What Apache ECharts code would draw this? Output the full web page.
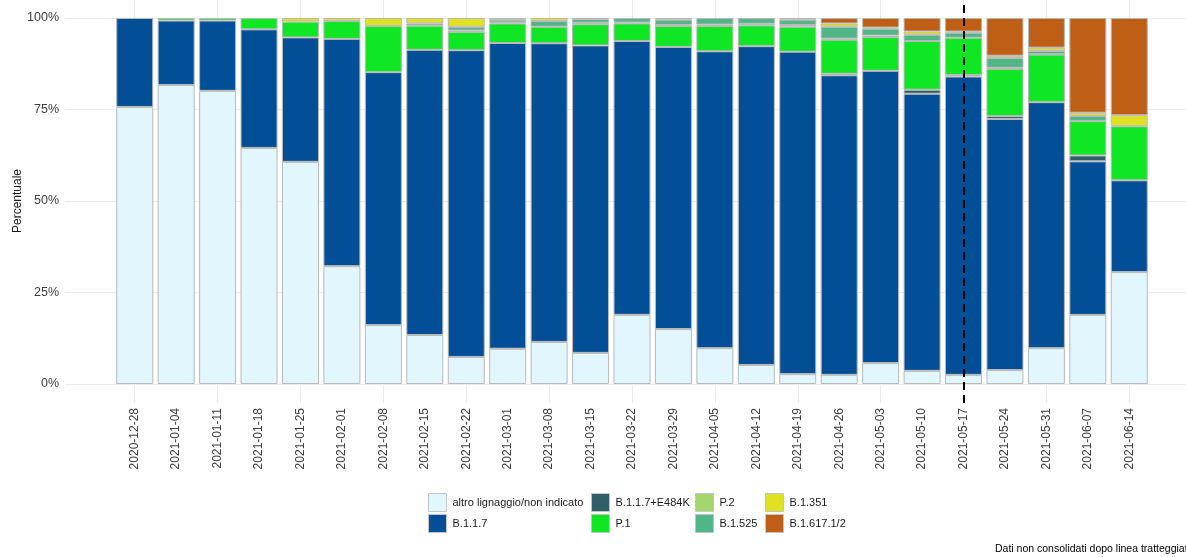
<!DOCTYPE html>
<html>
<head>
<meta charset="utf-8">
<script src="https://cdn.jsdelivr.net/npm/echarts@6/dist/echarts.min.js"></script>
<style>
  html, body { margin: 0; padding: 0; background: #fff; }
  #chart { width: 1186px; height: 557px; }
</style>
</head>
<body>
<div id="chart"></div>
<script>
// settimane
var weeks = ['2020-12-28','2021-01-04','2021-01-11','2021-01-18','2021-01-25','2021-02-01','2021-02-08',
  '2021-02-15','2021-02-22','2021-03-01','2021-03-08','2021-03-15','2021-03-22','2021-03-29','2021-04-05',
  '2021-04-12','2021-04-19','2021-04-26','2021-05-03','2021-05-10','2021-05-17','2021-05-24','2021-05-31',
  '2021-06-07','2021-06-14'];

// quote per lignaggio (%)
var altro  = [75.7, 81.7, 80.1, 64.5, 60.7, 32.2, 16.1, 13.4, 7.4, 9.6, 11.5, 8.5, 18.9, 15.0, 9.8, 5.2, 2.7, 2.5, 5.7, 3.6, 2.5, 3.8, 9.8, 18.9, 30.6];
var b117   = [24.3, 17.6, 19.2, 32.4, 34.0, 62.1, 69.1, 77.9, 83.9, 83.2, 81.6, 84.0, 74.8, 77.1, 81.1, 87.1, 88.1, 81.6, 79.7, 75.7, 81.5, 68.6, 67.2, 42.0, 25.1];
var e484k  = [0, 0, 0, 0, 0, 0, 0, 0, 0, 0, 0, 0, 0, 0, 0, 0, 0, 0.4, 0, 1.1, 0.4, 0.8, 0, 1.6, 0];
var p1     = [0, 0.7, 0.7, 3.1, 4.3, 4.9, 12.6, 6.6, 5.0, 5.3, 4.5, 5.8, 4.8, 5.7, 6.9, 5.7, 6.8, 9.3, 9.2, 13.3, 10.2, 12.9, 13.0, 9.4, 14.8];
var p2     = [0, 0, 0, 0, 0, 0, 0, 0, 0.4, 0.3, 0, 0.4, 0.3, 0.3, 0.4, 0.4, 0.5, 0.3, 0.4, 0, 0, 0.3, 0.1, 0, 0];
var b1525  = [0, 0, 0, 0, 0, 0, 0, 0.6, 1.0, 0.7, 1.6, 1.0, 1.2, 1.4, 1.8, 1.6, 1.4, 3.2, 1.9, 1.7, 1.4, 2.7, 0.9, 1.4, 0];
var b1351  = [0, 0, 0, 0, 1.0, 0.8, 2.2, 1.5, 2.4, 0.5, 0.8, 0.3, 0, 0.5, 0, 0, 0.5, 0.9, 0.3, 0.9, 0.3, 0.6, 0.9, 0.9, 3.0];
var b1617  = [0, 0, 0, 0, 0, 0, 0, 0, 0, 0, 0, 0, 0, 0, 0, 0, 0, 1.5, 2.6, 3.7, 3.7, 10.3, 8.1, 25.9, 26.6];

var yTicks = [0, 25, 50, 75, 100];
var cutWeek = '2021-05-17';

var lineages = [
  { name: 'altro lignaggio/non indicato', values: altro, color: '#e1f6fd' },
  { name: 'B.1.1.7', values: b117, color: '#024f97' },
  { name: 'B.1.1.7+E484K', values: e484k, color: '#2f6068' },
  { name: 'P.1', values: p1, color: '#0fe624' },
  { name: 'P.2', values: p2, color: '#a3d66e' },
  { name: 'B.1.525', values: b1525, color: '#4fb687' },
  { name: 'B.1.351', values: b1351, color: '#e0e122' },
  { name: 'B.1.617.1/2', values: b1617, color: '#bf5e15' }
];

// totale per settimana (position = fill)
var totals = weeks.map(function (w, i) {
  return lineages.reduce(function (s, l) { return s + l.values[i]; }, 0);
});

var font = 'Liberation Sans, Arial, sans-serif';
var chart = echarts.init(document.getElementById('chart'));

var series = lineages.map(function (l) {
  return {
    name: l.name,
    type: 'bar',
    stack: 'tot',
    xAxisIndex: 0,
    yAxisIndex: 0,
    barWidth: 37,
    itemStyle: { color: l.color, borderColor: '#b9b9b9', borderWidth: 1 },
    data: l.values.map(function (v, i) { return v > 0 ? v / totals[i] * 100 : null; })
  };
});

// linea tratteggiata
series.push({
  type: 'line',
  xAxisIndex: 2,
  yAxisIndex: 2,
  data: [],
  z: 10,
  markLine: {
    silent: true,
    symbol: ['none', 'none'],
    label: { show: false },
    lineStyle: { color: '#000', type: [8, 5], width: 2 },
    data: [{ xAxis: cutWeek }]
  }
});

function legendCol(left, names) {
  return {
    orient: 'vertical',
    left: left,
    top: 493,
    padding: 0,
    itemWidth: 18,
    itemHeight: 18,
    itemGap: 2,
    icon: 'rect',
    selectedMode: false,
    itemStyle: { borderColor: '#c4c4c4', borderWidth: 1 },
    textStyle: { fontSize: 11, color: '#1a1a1a', fontFamily: font, padding: [0, 0, 0, 1] },
    data: names
  };
}

var option = {
  animation: false,
  textStyle: { fontFamily: font },
  grid: [
    { left: 114, right: 36, top: 18, bottom: 173 },
    { left: 65, right: 0, top: 18, bottom: 173 },
    { left: 134.7, right: 56.7, top: 0, bottom: 154 }
  ],
  xAxis: [
    {
      gridIndex: 0, type: 'category', data: weeks,
      axisLine: { show: false }, axisTick: { show: false }, splitLine: { show: false },
      axisLabel: { rotate: 90, margin: 24, fontSize: 12, color: '#3d3d3d', fontFamily: font }
    },
    { gridIndex: 1, type: 'value', min: 0, max: 1, show: false },
    {
      gridIndex: 2, type: 'category', data: weeks, boundaryGap: false,
      axisLine: { show: false }, axisTick: { show: false }, axisLabel: { show: false },
      splitLine: { show: true, lineStyle: { color: '#ebebeb', width: 1 } }
    }
  ],
  yAxis: [
    { gridIndex: 0, type: 'value', min: 0, max: 100, show: false },
    {
      gridIndex: 1, type: 'value', min: yTicks[0], max: yTicks[yTicks.length - 1], interval: 25,
      axisLine: { show: false }, axisTick: { show: false },
      axisLabel: { formatter: '{value}%', margin: 6, fontSize: 12.5, color: '#3d3d3d', fontFamily: font },
      splitLine: { show: true, lineStyle: { color: '#ebebeb', width: 1 } }
    },
    { gridIndex: 2, type: 'value', min: 0, max: 1, show: false }
  ],
  legend: [
    legendCol(428, ['altro lignaggio/non indicato', 'B.1.1.7']),
    legendCol(591, ['B.1.1.7+E484K', 'P.1']),
    legendCol(695, ['P.2', 'B.1.525']),
    legendCol(765, ['B.1.351', 'B.1.617.1/2'])
  ],
  graphic: [
    {
      type: 'text', x: 18, y: 201, rotation: Math.PI / 2,
      style: { text: 'Percentuale', fontSize: 12, fill: '#1a1a1a', fontFamily: font, align: 'center', verticalAlign: 'middle' }
    },
    {
      type: 'text', left: 995, top: 544,
      style: { text: 'Dati non consolidati dopo linea tratteggiata', fontSize: 10.5, fill: '#000', fontFamily: font }
    }
  ],
  series: series
};

chart.setOption(option);
</script>
</body>
</html>
